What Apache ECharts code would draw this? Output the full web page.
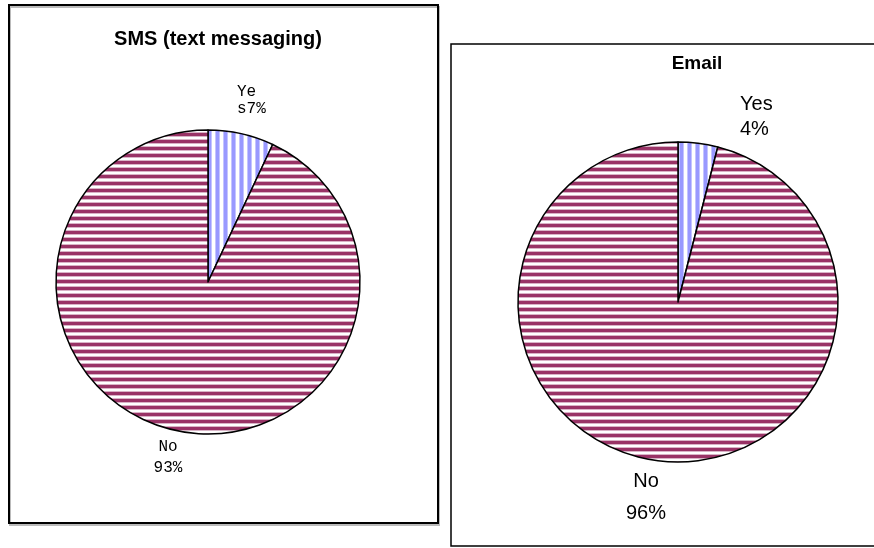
<!DOCTYPE html>
<html>
<head>
<meta charset="utf-8">
<script src="https://cdn.jsdelivr.net/npm/echarts@6/dist/echarts.min.js"></script>
<style>
  html, body { margin: 0; padding: 0; background: #fff; }
  #chart { width: 874px; height: 548px; }
</style>
</head>
<body>
<div id="chart"></div>
<script>
// data
const categories = ['Yes', 'No']
const smsValues = [7, 93]
const emailValues = [4, 96]

// stripe patterns like the old office chart fills
function stripes(colors, vertical) {
  const c = document.createElement('canvas')
  c.width = vertical ? colors.length : 1
  c.height = vertical ? 1 : colors.length
  const ctx = c.getContext('2d')
  colors.forEach((col, i) => {
    ctx.fillStyle = col
    if (vertical) ctx.fillRect(i, 0, 1, 1)
    else ctx.fillRect(0, i, 1, 1)
  })
  return { image: c, repeat: 'repeat' }
}
const bluePat = stripes(['#9999ff', '#9999ff', '#9999ff', '#c4c4ff', '#ffffff', '#ffffff', '#ffffff', '#c4c4ff'], true)
const maroonPat = stripes(['#993366', '#993366', '#993366', '#d9b3c6', '#ffffff', '#ffffff', '#d9b3c6'], false)

const chart = echarts.init(document.getElementById('chart'))

const mono = "'Liberation Mono', 'Courier New', monospace"
const sans = "'Liberation Sans', Arial, sans-serif"

// label spots (x, y, align) for each slice
const smsLabelPos = [[237, 100, 'left'], [168, 457, 'center']]
const emailLabelPos = [[740, 117, 'left'], [646, 497, 'center']]

const option = {
  backgroundColor: '#fff',
  animation: false,
  graphic: [
    {
      type: 'rect',
      shape: { x: 9, y: 5, width: 429, height: 518 },
      style: { fill: 'none', stroke: '#000', lineWidth: 2, shadowColor: '#bbb', shadowOffsetX: 1, shadowOffsetY: 2 }
    },
    {
      type: 'rect',
      shape: { x: 451, y: 44, width: 430, height: 502 },
      style: { fill: 'none', stroke: '#000', lineWidth: 1.5 }
    }
  ],
  title: [
    {
      text: 'SMS (text messaging)',
      left: 213, top: 24, textAlign: 'center',
      textStyle: { fontFamily: sans, fontSize: 20, fontWeight: 'bold', color: '#000' }
    },
    {
      text: 'Email',
      left: 692, top: 49, textAlign: 'center',
      textStyle: { fontFamily: sans, fontSize: 19, fontWeight: 'bold', color: '#000' }
    }
  ],
  series: [
    {
      type: 'pie',
      center: [208, 282],
      radius: 152,
      startAngle: 90,
      clockwise: true,
      silent: true,
      itemStyle: { borderColor: '#000', borderWidth: 1.5 },
      label: {
        show: true,
        position: 'outside',
        fontFamily: mono,
        fontSize: 16,
        lineHeight: 18,
        color: '#000'
      },
      labelLine: { show: false },
      labelLayout: (p) => ({
        x: smsLabelPos[p.dataIndex][0],
        y: smsLabelPos[p.dataIndex][1],
        align: smsLabelPos[p.dataIndex][2],
        verticalAlign: 'middle'
      }),
      data: [
        {
          name: categories[0], value: smsValues[0],
          itemStyle: { color: bluePat },
          label: { formatter: 'Ye\ns' + smsValues[0] + '%', lineHeight: 17 }
        },
        {
          name: categories[1], value: smsValues[1],
          itemStyle: { color: maroonPat },
          label: { formatter: categories[1] + '\n' + smsValues[1] + '%', lineHeight: 21, align: 'center' }
        }
      ]
    },
    {
      type: 'pie',
      center: [678, 302],
      radius: 160,
      startAngle: 90,
      clockwise: true,
      silent: true,
      itemStyle: { borderColor: '#000', borderWidth: 1.5 },
      label: {
        show: true,
        position: 'outside',
        fontFamily: sans,
        fontSize: 20,
        color: '#000'
      },
      labelLine: { show: false },
      labelLayout: (p) => ({
        x: emailLabelPos[p.dataIndex][0],
        y: emailLabelPos[p.dataIndex][1],
        align: emailLabelPos[p.dataIndex][2],
        verticalAlign: 'middle'
      }),
      data: [
        {
          name: categories[0], value: emailValues[0],
          itemStyle: { color: bluePat },
          label: { formatter: categories[0] + '\n' + emailValues[0] + '%', lineHeight: 25 }
        },
        {
          name: categories[1], value: emailValues[1],
          itemStyle: { color: maroonPat },
          label: { formatter: categories[1] + '\n' + emailValues[1] + '%', lineHeight: 32, align: 'center' }
        }
      ]
    }
  ]
}

chart.setOption(option)

window.onresize = () => {
  chart.resize()
}
</script>
</body>
</html>
